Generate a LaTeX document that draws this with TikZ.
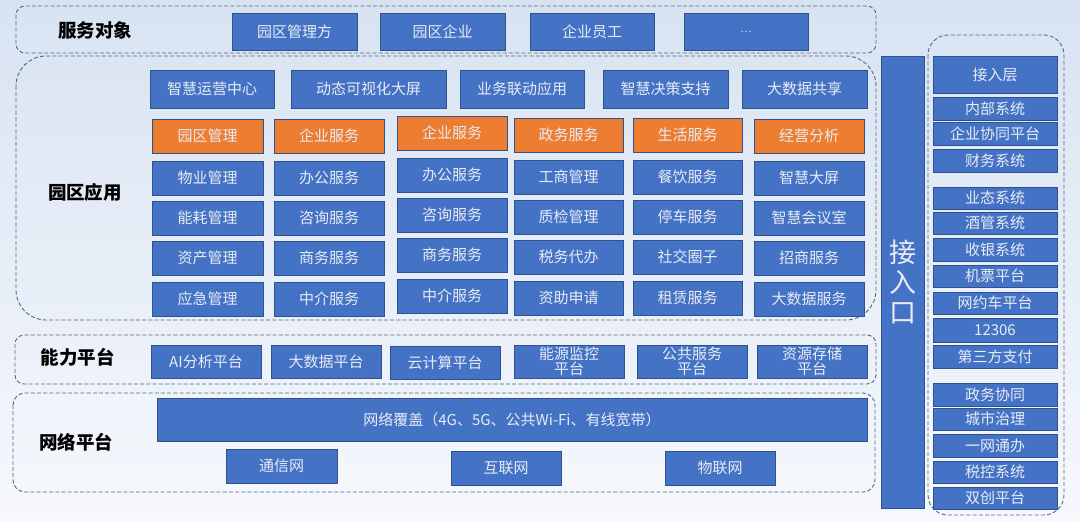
\documentclass[tikz,border=0pt]{standalone}
\usepackage{fontspec}
\setmainfont{Noto Sans CJK SC}
\definecolor{bgtop}{RGB}{216,227,242}
\definecolor{bgbot}{RGB}{246,248,252}
\definecolor{bluefill}{RGB}{68,114,196}
\definecolor{blueline}{RGB}{47,82,143}
\definecolor{orgfill}{RGB}{237,125,49}
\definecolor{txt}{RGB}{232,236,245}
\definecolor{dashc}{RGB}{84,104,134}
\tikzset{
  blk/.style={draw=blueline,fill=bluefill,line width=0.8pt,text=txt,inner sep=0pt,align=center,
    font=\fontsize{15}{15.5}\selectfont},
  org/.style={blk,fill=orgfill},
  grp/.style={draw=dashc,line width=0.9pt,dash pattern=on 4pt off 2.2pt},
  lab/.style={font=\fontsize{18.5}{20}\selectfont\bfseries,text=black}
}
\newcommand\bx[7][blk]{%
  \node[#1,minimum width={((#5)-(#3))*1pt},minimum height={((#6)-(#4))*1pt}]
    (#2) at ({((#3)+(#5))/2},{((#4)+(#6))/2}) {#7};}
\newcommand\appcol[9]{%
  \bx[org]{c#1o}{#2}{#4}{#3}{(#4)+34}{#5}
  \bx{c#1a}{#2}{(#4)+42}{#3}{(#4)+76}{#6}
  \bx{c#1b}{#2}{(#4)+82}{#3}{(#4)+116}{#7}
  \bx{c#1c}{#2}{(#4)+122}{#3}{(#4)+156}{#8}
  \bx{c#1d}{#2}{(#4)+163}{#3}{(#4)+197}{#9}}
\begin{document}
\begin{tikzpicture}[x=1pt,y=-1pt]
\shade[top color=bgtop,bottom color=bgbot] (0,0) rectangle (1080,522);
\useasboundingbox (0,0) rectangle (1080,522);
% group frames
\draw[grp,rounded corners=9pt] (16,6) rectangle (876,53);
\draw[grp,rounded corners=30pt] (16,56) rectangle (876,320);
\draw[grp,rounded corners=9pt] (15,335) rectangle (876,384);
\draw[grp,rounded corners=12pt] (13,393) rectangle (875,492);
\draw[grp,rounded corners=20pt] (928,35) rectangle (1064,515);
% labels
\node[lab] (l1) at (95,30) {服务对象};
\node[lab] (l2) at (85,192) {园区应用};
\node[lab] (l3) at (78,357) {能力平台};
\node[lab] (l4) at (76,442) {网络平台};
% service objects
\bx{s1}{232}{13}{357}{50}{园区管理方}
\bx{s2}{380}{13}{505}{50}{园区企业}
\bx{s3}{530}{13}{654}{50}{企业员工}
\bx{s4}{684}{13}{808}{50}{\fontsize{10}{12}\selectfont …}
% app row 1
\bx{a1}{150}{70}{274}{108}{智慧运营中心}
\bx{a2}{291}{70}{446}{108}{动态可视化大屏}
\bx{a3}{460}{70}{584}{108}{业务联动应用}
\bx{a4}{603}{70}{728}{108}{智慧决策支持}
\bx{a5}{742}{70}{867}{108}{大数据共享}
% app columns
\appcol{1}{152}{263}{119}{园区管理}{物业管理}{能耗管理}{资产管理}{应急管理}
\appcol{2}{274}{384}{119}{企业服务}{办公服务}{咨询服务}{商务服务}{中介服务}
\appcol{3}{397}{507}{116}{企业服务}{办公服务}{咨询服务}{商务服务}{中介服务}
\appcol{4}{514}{623}{118}{政务服务}{工商管理}{质检管理}{税务代办}{资助申请}
\appcol{5}{633}{742}{118}{生活服务}{餐饮服务}{停车服务}{社交圈子}{租赁服务}
\appcol{6}{754}{864}{119}{经营分析}{智慧大屏}{智慧会议室}{招商服务}{大数据服务}
% ability platform
\bx{p1}{151}{345}{261}{378}{AI分析平台}
\bx{p2}{271}{345}{381}{378}{大数据平台}
\bx{p3}{390}{346}{500}{379}{云计算平台}
\bx{p4}{514}{345}{624}{378}{能源监控\\平台}
\bx{p5}{637}{345}{747}{378}{公共服务\\平台}
\bx{p6}{757}{345}{867}{378}{资源存储\\平台}
% network platform
\bx{n0}{157}{398}{867}{441}{网络覆盖（4G、5G、公共Wi-Fi、有线宽带）}
\bx{n1}{226}{449}{337}{483}{通信网}
\bx{n2}{451}{451}{561}{485}{互联网}
\bx{n3}{665}{451}{775}{485}{物联网}
% access bar
\bx[blk,font=\fontsize{27}{30}\selectfont]{gate}{881}{56}{924}{508}{接\\入\\口}
% right column
\bx{r1}{933}{56}{1057}{93}{接入层}
\bx{r2}{933}{97}{1057}{120}{内部系统}
\bx{r3}{933}{122}{1057}{145}{企业协同平台}
\bx{r4}{933}{149}{1057}{172}{财务系统}
\bx{r5}{933}{187}{1057}{209}{业态系统}
\bx{r6}{933}{212}{1057}{234}{酒管系统}
\bx{r7}{933}{238}{1057}{261}{收银系统}
\bx{r8}{933}{265}{1057}{287}{机票平台}
\bx{r9}{933}{292}{1057}{314}{网约车平台}
\bx{r10}{933}{318}{1057}{342}{12306}
\bx{r11}{933}{345}{1057}{368}{第三方支付}
\bx{r12}{933}{383}{1057}{406}{政务协同}
\bx{r13}{933}{408}{1057}{430}{城市治理}
\bx{r14}{933}{434}{1057}{457}{一网通办}
\bx{r15}{933}{461}{1057}{483}{税控系统}
\bx{r16}{933}{487}{1057}{509}{双创平台}
\end{tikzpicture}
\end{document}
